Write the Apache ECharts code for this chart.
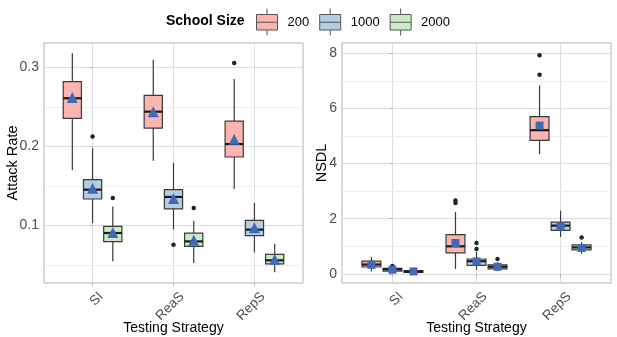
<!DOCTYPE html>
<html>
<head>
<meta charset="utf-8">
<script src="https://cdn.jsdelivr.net/npm/echarts@6/dist/echarts.min.js"></script>
<style>
html, body { margin: 0; padding: 0; background: #fff; }
#chart { width: 617px; height: 337px; }
</style>
</head>
<body>
<div id="chart"></div>
<script>
// categories and groups
var categories = ['SI', 'ReaS', 'RepS'];
var sizes = ['200', '1000', '2000'];

// attack rate: [lower whisker, q1, median, q3, upper whisker] per strategy
var attack200 = [[0.170, 0.2355, 0.261, 0.282, 0.318], [0.182, 0.2233, 0.244, 0.2646, 0.3097], [0.146, 0.1866, 0.203, 0.232, 0.2853]];
var attack1000 = [[0.103, 0.1334, 0.1452, 0.158, 0.198], [0.0946, 0.1208, 0.136, 0.1452, 0.179], [0.0658, 0.087, 0.0946, 0.1063, 0.1284]];
var attack2000 = [[0.0544, 0.0794, 0.0903, 0.0987, 0.124], [0.0524, 0.0734, 0.0797, 0.0903, 0.106], [0.0405, 0.0511, 0.0557, 0.0633, 0.0766]];
var attackMean200 = [0.262, 0.244, 0.209];
var attackMean1000 = [0.147, 0.134, 0.097];
var attackMean2000 = [0.091, 0.081, 0.057];
// outliers: [strategy index, size index, value]
var attackOutliers = [[0, 1, 0.2127], [0, 2, 0.1347], [1, 1, 0.0756], [1, 2, 0.122], [2, 0, 0.3056]];

// NSDL
var nsdl200 = [[0.09, 0.25, 0.34, 0.46, 0.62], [0.18, 0.76, 1.0, 1.42, 2.24], [4.34, 4.84, 5.21, 5.70, 6.83]];
var nsdl1000 = [[0.06, 0.10, 0.17, 0.20, 0.26], [0.15, 0.31, 0.46, 0.54, 0.80], [1.34, 1.58, 1.75, 1.88, 2.29]];
var nsdl2000 = [[0.02, 0.05, 0.08, 0.12, 0.18], [0.10, 0.18, 0.26, 0.33, 0.42], [0.73, 0.87, 0.96, 1.05, 1.15]];
var nsdlMean200 = [0.33, 1.12, 5.38];
var nsdlMean1000 = [0.15, 0.45, 1.72];
var nsdlMean2000 = [0.09, 0.26, 0.94];
var nsdlOutliers = [[0, 1, 0.29], [1, 0, 2.66], [1, 0, 2.57], [1, 1, 1.12], [1, 1, 0.90], [1, 2, 0.54], [2, 0, 7.93], [2, 0, 7.22], [2, 2, 1.32]];

// tick labels
var attackTicks = [0.1, 0.2, 0.3];
var attackMinor = [0.05, 0.15, 0.25];
var nsdlTicks = [0, 2, 4, 6, 8];
var nsdlMinor = [1, 3, 5, 7];

var fills = ['#FBB4AE', '#B3CDE3', '#CCEBC5'];
var DODGE = 0.25;
var BOX_W = 0.225;
var FONT = 'Liberation Sans, Arial, sans-serif';

var chart = echarts.init(document.getElementById('chart'));

// one box: whiskers, box, median
function boxRender(params, api) {
  var x = api.value(0);
  var lo = api.coord([x, api.value(1)]);
  var q1 = api.coord([x, api.value(2)]);
  var md = api.coord([x, api.value(3)]);
  var q3 = api.coord([x, api.value(4)]);
  var hi = api.coord([x, api.value(5)]);
  var hw = api.size([BOX_W, 0])[0] / 2;
  var stroke = '#3a3a3a';
  return {
    type: 'group',
    children: [
      { type: 'line', shape: { x1: lo[0], y1: lo[1], x2: q1[0], y2: q1[1] }, style: { stroke: stroke, lineWidth: 1.2 } },
      { type: 'line', shape: { x1: q3[0], y1: q3[1], x2: hi[0], y2: hi[1] }, style: { stroke: stroke, lineWidth: 1.2 } },
      { type: 'rect', shape: { x: q3[0] - hw, y: q3[1], width: hw * 2, height: q1[1] - q3[1] }, style: { fill: api.visual('color'), stroke: stroke, lineWidth: 1.2 } },
      { type: 'line', shape: { x1: md[0] - hw, y1: md[1], x2: md[0] + hw, y2: md[1] }, style: { stroke: '#1a1a1a', lineWidth: 2.2 } }
    ]
  };
}

function buildPanel(gi, groups, means, outliers, meanSymbol, meanSize) {
  var out = [];
  groups.forEach(function (stats, g) {
    out.push({
      name: sizes[g],
      type: 'custom',
      xAxisIndex: gi, yAxisIndex: gi,
      renderItem: boxRender,
      itemStyle: { color: fills[g] },
      encode: { x: 0, y: [1, 2, 3, 4, 5] },
      data: stats.map(function (s, i) { return [i + (g - 1) * DODGE].concat(s); }),
      z: 2
    });
  });
  out.push({
    type: 'scatter',
    xAxisIndex: gi, yAxisIndex: gi,
    symbolSize: 4.5,
    itemStyle: { color: '#222', opacity: 1 },
    data: outliers.map(function (o) { return [o[0] + (o[1] - 1) * DODGE, o[2]]; }),
    z: 3
  });
  var meanData = [];
  means.forEach(function (m, g) {
    m.forEach(function (v, i) { meanData.push([i + (g - 1) * DODGE, v]); });
  });
  out.push({
    type: 'scatter',
    xAxisIndex: gi, yAxisIndex: gi,
    symbol: meanSymbol,
    symbolSize: meanSize,
    itemStyle: { color: '#4169B8', opacity: 1 },
    data: meanData,
    z: 4
  });
  return out;
}

// minor grid lines
function minorLines(gi, vals) {
  return {
    type: 'scatter',
    xAxisIndex: gi, yAxisIndex: gi,
    data: [],
    z: 1,
    markLine: {
      silent: true,
      z: 1,
      symbol: 'none',
      label: { show: false },
      lineStyle: { color: '#EFEFEF', width: 1, type: 'solid' },
      data: vals.map(function (v) { return { yAxis: v }; })
    }
  };
}

function xAxis(gi) {
  return {
    type: 'value', gridIndex: gi, min: -0.6, max: 2.6,
    name: 'Testing Strategy', nameLocation: 'middle', nameGap: 38, nameMoveOverlap: false,
    nameTextStyle: { fontSize: 14, color: '#000', fontFamily: FONT },
    axisLine: { show: false },
    axisTick: { show: true, length: 3, customValues: [0, 1, 2], lineStyle: { color: '#B3B3B3' } },
    axisLabel: {
      customValues: [0, 1, 2], rotate: 45, margin: 3, fontSize: 13.5, color: '#4D4D4D', fontFamily: FONT,
      verticalAlign: 'top', padding: [5, 0, 0, 0],
      formatter: function (v) { return categories[Math.round(v)]; }
    },
    splitLine: { show: true, lineStyle: { color: '#DEDEDE', width: 1 } }
  };
}

function yAxis(gi, name, min, max, ticks, gap) {
  return {
    type: 'value', gridIndex: gi, min: min, max: max,
    name: name, nameLocation: 'middle', nameGap: gap, nameMoveOverlap: false,
    nameTextStyle: { fontSize: 14.5, color: '#000', fontFamily: FONT },
    axisLine: { show: false },
    axisTick: { show: true, length: 3, customValues: ticks, lineStyle: { color: '#B3B3B3' } },
    axisLabel: { customValues: ticks, margin: 5, fontSize: 14, color: '#4D4D4D', fontFamily: FONT },
    splitLine: { show: true, lineStyle: { color: '#DEDEDE', width: 1 } }
  };
}

var legendIcon = 'path://M0,6 H21 V21.5 H0 Z M0,13.75 H21 M10.5,0 V6 M10.5,21.5 V27';

var series = []
  .concat([minorLines(0, attackMinor), minorLines(1, nsdlMinor)])
  .concat(buildPanel(0, [attack200, attack1000, attack2000], [attackMean200, attackMean1000, attackMean2000], attackOutliers, 'triangle', 11))
  .concat(buildPanel(1, [nsdl200, nsdl1000, nsdl2000], [nsdlMean200, nsdlMean1000, nsdlMean2000], nsdlOutliers, 'rect', 8));

var option = {
  animation: false,
  backgroundColor: '#fff',
  title: {
    text: 'School Size', left: 166, top: 14, padding: 0,
    textStyle: { fontSize: 14, fontWeight: 'bold', color: '#000', fontFamily: FONT }
  },
  legend: {
    data: sizes, left: 256, top: 8, padding: 0,
    icon: legendIcon, itemWidth: 21, itemHeight: 27, itemGap: 10,
    itemStyle: { borderColor: '#555', borderWidth: 1 },
    formatter: function (name) { return '{t|' + name + '}'; },
    textStyle: {
      fontSize: 13, color: '#000', fontFamily: FONT,
      rich: { t: { fontSize: 13, color: '#000', fontFamily: FONT, padding: [0, 0, 0, 5] } }
    },
    selectedMode: false
  },
  grid: [
    { left: 44, top: 43, width: 259, height: 240, outerBoundsMode: 'none', show: true, borderColor: '#B3B3B3', borderWidth: 1, backgroundColor: 'transparent' },
    { left: 342, top: 43, width: 269, height: 240, outerBoundsMode: 'none', show: true, borderColor: '#B3B3B3', borderWidth: 1, backgroundColor: 'transparent' }
  ],
  xAxis: [xAxis(0), xAxis(1)],
  yAxis: [
    yAxis(0, 'Attack Rate', 0.027, 0.331, attackTicks, 24),
    yAxis(1, 'NSDL', -0.33, 8.37, nsdlTicks, 13)
  ],
  series: series
};

chart.setOption(option);
</script>
</body>
</html>
